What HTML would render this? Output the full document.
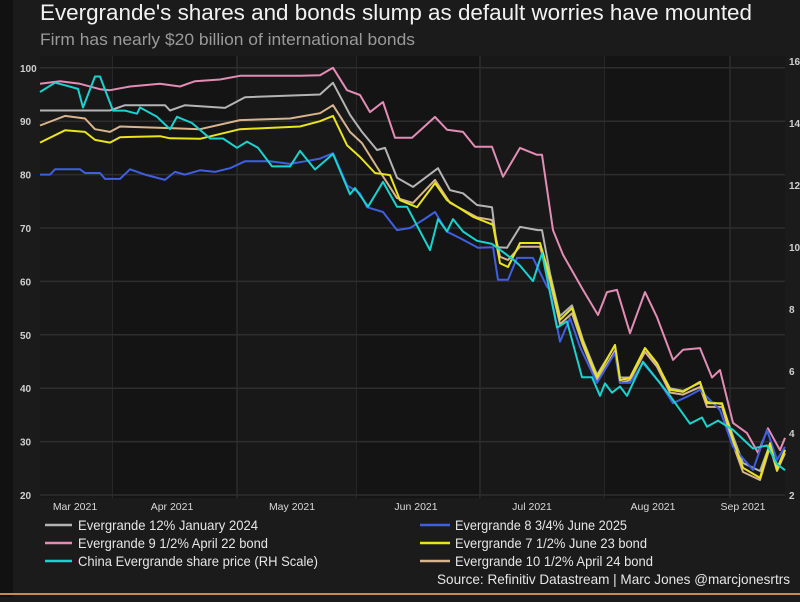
<!DOCTYPE html>
<html><head><meta charset="utf-8"><style>
body{margin:0;background:#1b1b1b;width:800px;height:597px;overflow:hidden;font-family:"Liberation Sans",sans-serif}
</style></head><body>
<svg width="800" height="597" viewBox="0 0 800 597" id="chart">
<rect x="0" y="0" width="800" height="597" fill="#1b1b1b"/>
<rect x="0" y="0" width="13" height="597" fill="#111"/>
<text x="40" y="20" fill="#f2f2f2" font-size="22" textLength="712" lengthAdjust="spacingAndGlyphs">Evergrande's shares and bonds slump as default worries have mounted</text>
<text x="40" y="45" fill="#9a9a9a" font-size="17" textLength="375" lengthAdjust="spacingAndGlyphs">Firm has nearly $20 billion of international bonds</text>
<rect x="40" y="56" width="745" height="442" fill="#181818"/>
<g id="bands"></g><g id="grid"></g><g id="series"></g><g id="axes"></g>
<g font-size="14" fill="#e6e6e6">
<line x1="45" y1="525" x2="72" y2="525" stroke="#b4b4b4" stroke-width="2.5"/>
<text x="78" y="530" textLength="180" lengthAdjust="spacingAndGlyphs">Evergrande 12% January 2024</text>
<line x1="45" y1="543" x2="72" y2="543" stroke="#e38cb5" stroke-width="2.5"/>
<text x="78" y="548" textLength="190" lengthAdjust="spacingAndGlyphs">Evergrande 9 1/2% April 22 bond</text>
<line x1="45" y1="561" x2="72" y2="561" stroke="#19d3cf" stroke-width="2.5"/>
<text x="78" y="566" textLength="240" lengthAdjust="spacingAndGlyphs">China Evergrande share price (RH Scale)</text>
<line x1="420" y1="525" x2="450" y2="525" stroke="#3f5fe0" stroke-width="2.5"/>
<text x="455" y="530" textLength="172" lengthAdjust="spacingAndGlyphs">Evergrande 8 3/4% June 2025</text>
<line x1="420" y1="543" x2="450" y2="543" stroke="#e9e41c" stroke-width="2.5"/>
<text x="455" y="548" textLength="192" lengthAdjust="spacingAndGlyphs">Evergrande 7 1/2% June 23 bond</text>
<line x1="420" y1="561" x2="450" y2="561" stroke="#d8b48e" stroke-width="2.5"/>
<text x="455" y="566" textLength="198" lengthAdjust="spacingAndGlyphs">Evergrande 10 1/2% April 24 bond</text>
<text x="437" y="584" textLength="353" lengthAdjust="spacingAndGlyphs">Source: Refinitiv Datastream | Marc Jones @marcjonesrtrs</text>
</g>
<rect x="0" y="593" width="800" height="2" fill="#c98a4a"/>
</svg>
<script>
const leftTicks=[20,30,40,50,60,70,80,90,100];
const rightTicks=[2,4,6,8,10,12,14,16];
const monthLabels=["Mar 2021","Apr 2021","May 2021","Jun 2021","Jul 2021","Aug 2021","Sep 2021"];
const monthIdx=[7,26.4,50.4,75.2,98.4,122.6,140.6];
const bandIdx=[14.6,39.4,63.4,88,113,138];
const gray=[[0,92],[14,92],[17,93],[25,93],[26,92],[29,93],[37,92.5],[41,94.5],[56,95],[58.6,97.2],[62,91.2],[64.4,88],[67.4,84.6],[69,85],[71.4,79.4],[74.6,77.7],[79.6,81.2],[82,77.1],[84.6,76.5],[87.4,74.3],[90.4,73.9],[91.4,66.4],[93.4,66.3],[96,70.2],[99.6,69.6],[100.4,69.6],[102,61.5],[104,53.5],[106.4,55.5],[108.6,49],[111.4,42.5],[115,48],[116,42],[118,42],[121,47.5],[123.4,44.5],[126,40],[128.6,39.5],[132,41],[133.4,37.5],[136.4,37],[138.6,31],[140.6,26],[144,24.5],[146,29.5],[147.4,25],[149,28.5]];
const pink=[[0,97],[4,97.5],[8,97],[12,96],[14,95.8],[18,96.5],[24,97],[28,96.5],[31,97.5],[36,97.8],[40,98.5],[52,98.5],[56,98.6],[58.6,100],[61.4,95.8],[64,94.9],[66,91.7],[68.6,93.6],[71,86.9],[74.4,86.9],[79,90.8],[81.4,88.4],[84.6,88],[87,85.2],[90.4,85.2],[92.6,79.6],[96,85],[99.4,83.7],[100.4,83.7],[102.6,69.6],[104.6,65],[108.6,58.4],[111.6,53.7],[113.4,58],[115.4,58.4],[118,50.3],[121,58],[123.4,53.3],[126.6,45.3],[128.6,47.2],[132,47.5],[134.4,42],[136,43.4],[138.6,33.5],[141.4,31.6],[143.6,27.9],[145.6,32.5],[148,28.4],[149,30.7]];
const yellow=[[0,86],[5,88.3],[9,88],[11,86.5],[14,86],[16,87],[24,87.2],[26,86.8],[32,86.7],[40,88.5],[52,89],[56,90],[58.6,91],[61.4,85.5],[64,83.3],[67,80.3],[70,79.9],[72,75.2],[75.4,73.9],[79,78.4],[81.4,75.2],[86.6,72.1],[90.6,70.6],[92,63.4],[93.6,62.7],[96,67.2],[100,67.2],[102,60.8],[104,52.8],[106.4,55],[108.6,48.5],[111.4,42.1],[115,48.1],[116,41.5],[118,41.9],[121,47.5],[123.4,44.7],[126,39.7],[128.6,39.3],[132,41.2],[133.4,37.2],[136.4,37.2],[138.6,30.3],[140.6,25.1],[144,23.2],[146,29.7],[147.4,24.7],[149,28.4]];
const tan=[[0,89.2],[5,91],[9,90.5],[11,88.5],[14,88],[16,89],[26,88.7],[32,88.5],[40,90.2],[50,90.5],[56,91.5],[58.6,93],[62,88],[64.4,85.9],[67.4,81.4],[71.4,75.6],[74.6,74.7],[79,79],[82,74.7],[87.4,72],[90.4,71.5],[92,64.6],[93.6,64],[96,66.5],[100,66.5],[102,60],[104,52],[106.4,54],[108.6,48],[111.4,41.5],[115,47],[116,41],[118,41.5],[121,46.8],[123.4,44],[126,39.2],[128.6,38.8],[132,40.2],[133.4,36.5],[136.4,36.5],[138.6,29.5],[140.6,24.3],[144,22.8],[146,29],[147.4,24.5],[149,27.8]];
const blue=[[0,80],[2,80],[3,81],[8,81],[9,80.3],[12,80.3],[13,79.2],[16,79.2],[18,81],[21,80],[25,79],[27,80.5],[29,80],[32,80.8],[35,80.5],[38,81.2],[41,82.5],[46,82.5],[50,82],[53,82.5],[56,83],[58.6,84],[61.4,78],[64,76.5],[65.4,73.9],[68.6,73],[71.4,69.6],[74,70],[76.6,71.5],[79,73],[81.4,69.3],[84,68.1],[87.6,66.3],[90.6,66.4],[91.6,60.3],[93.6,60.3],[95.4,64.4],[98.6,64.4],[101.4,59],[102,58.4],[104,48.7],[106,53.1],[108,47.7],[111.4,41],[115,46.6],[116,41],[118,41],[120.6,44.7],[124,41],[126.6,37.2],[129.4,38.4],[132,39.7],[136,35.9],[138.6,29],[142.6,24.7],[145.4,32.2],[147.4,26.6],[149,29]];
const cyan=[[0,15.0],[2,15.2],[3,15.3],[5.4,15.2],[7.6,15.1],[8.6,14.5],[11,15.5],[12,15.5],[14.6,14.4],[17,14.4],[19.4,14.3],[20,14.5],[23.4,14.2],[26,13.8],[27.4,14.2],[30.4,14.0],[34,13.5],[36.6,13.5],[39.4,13.2],[41.4,13.4],[43.6,13.2],[46.4,12.6],[50,12.6],[52,13.1],[55,12.5],[58.6,13.0],[62,11.7],[63,11.9],[65.6,11.3],[68.6,12.1],[71.4,11.3],[73.4,11.3],[78,9.9],[79.6,10.9],[81.4,10.5],[82.6,10.9],[84.6,10.5],[87.4,10.2],[90.4,10.1],[94.6,9.6],[96,9.4],[98.6,8.9],[100.4,9.8],[103.4,7.4],[105.4,7.6],[108.4,5.8],[110.4,5.8],[112,5.2],[113,5.6],[114.4,5.3],[116,5.5],[117.4,5.2],[120.6,6.3],[126,5.2],[130,4.3],[132.4,4.5],[133.4,4.2],[135.6,4.4],[138.6,4.1],[142.6,3.5],[145.4,3.6],[147.4,3.0],[149,2.8]];

const NS="http://www.w3.org/2000/svg";
const X=i=>40+i*5;
const YL=v=>495-(v-20)*5.34;
const YR=v=>495-(v-2)*31;
function mk(tag,attrs,parent){const e=document.createElementNS(NS,tag);for(const k in attrs)e.setAttribute(k,attrs[k]);document.getElementById(parent).appendChild(e);return e;}
for(let i=0;i<bandIdx.length;i++){
  const l=mk('line',{x1:X(bandIdx[i]),x2:X(bandIdx[i]),y1:56,y2:498,stroke:'#2c2c2c','stroke-width':1.5},'bands');
  
  
  if(i%2===0){const r=mk('rect',{x:X(bandIdx[i]),y:56,width:X(bandIdx[i+1]||149)-X(bandIdx[i]),height:442,fill:'#141414'},'bands');
  
  }
}
leftTicks.forEach(v=>{
  const g=mk('line',{x1:40,x2:785,y1:YL(v),y2:YL(v),stroke:'#2e2e2e','stroke-width':1.5},'grid');
  
  
  const t=mk('text',{x:20,y:YL(v)+4,fill:'#cfcfcf','font-size':10,'font-weight':'bold'},'axes');
  
  
  t.textContent=v;
});
rightTicks.forEach(v=>{
  const t=mk('text',{x:789,y:YR(v)+4,fill:'#cfcfcf','font-size':10,'font-weight':'bold'},'axes');
  
  
  t.textContent=v;
});
monthLabels.forEach((m,i)=>{
  const t=mk('text',{x:X(monthIdx[i]),y:510,fill:'#d8d8d8','font-size':10.5,'text-anchor':'middle'},'axes');
  
  
  t.textContent=m;
});
function line(data,Y,color,name){
  const p=mk('polyline',{points:data.map(d=>X(d[0])+','+Y(d[1]).toFixed(1)).join(' '),fill:'none',stroke:color,'stroke-width':2,'stroke-linejoin':'round'},'series');
  
  
}
line(pink,YL,'#e38cb5','line-9half-apr22');
line(gray,YL,'#b4b4b4','line-12pct-jan24');
line(tan,YL,'#d8b48e','line-10half-apr24');
line(blue,YL,'#3f5fe0','line-8three-quarter-jun25');
line(yellow,YL,'#e9e41c','line-7half-jun23');
line(cyan,YR,'#19d3cf','line-share-price');
</script>
</body></html>
